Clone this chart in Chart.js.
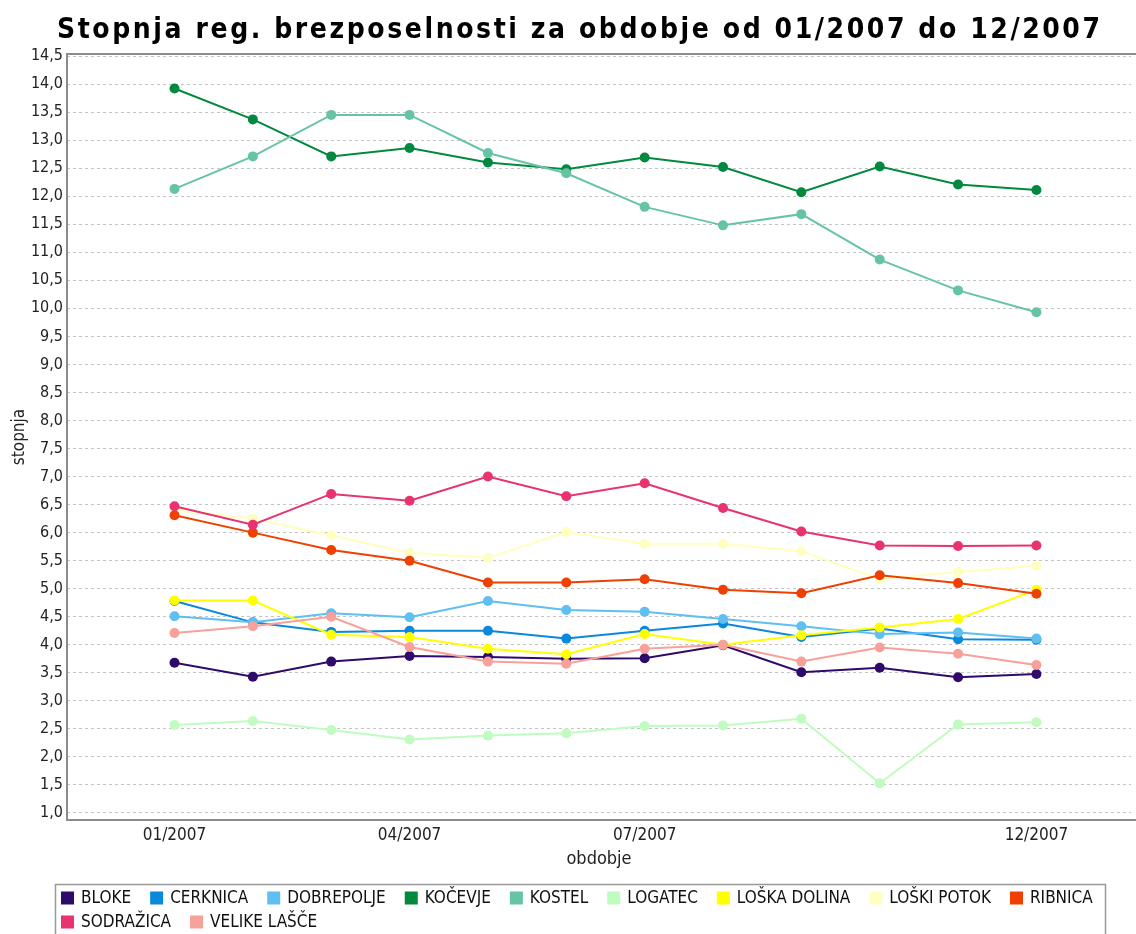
<!DOCTYPE html>
<html lang="sl">
<head>
  <meta charset="UTF-8">
  <title>Stopnja reg. brezposelnosti 2007</title>
  <script src="https://cdn.jsdelivr.net/npm/chart.js@4.4.1/dist/chart.umd.min.js"></script>
  <style>
    html, body { margin: 0; padding: 0; background: #fff; }
    #wrap { width: 1136px; height: 934px; }
  </style>
</head>
<body>
  <div id="wrap"><canvas id="chart" width="1136" height="934"></canvas></div>

  <script>
    const FONT = "'DejaVu Sans Condensed', 'DejaVu Sans', sans-serif";
    const TITLE = 'Stopnja reg. brezposelnosti za obdobje od 01/2007 do 12/2007';

    const months = ['01/2007', '02/2007', '03/2007', '04/2007', '05/2007', '06/2007',
                    '07/2007', '08/2007', '09/2007', '10/2007', '11/2007', '12/2007'];
    const xTickIdx = [0, 3, 6, 11];
    const yTicks = [1.0, 1.5, 2.0, 2.5, 3.0, 3.5, 4.0, 4.5, 5.0, 5.5, 6.0, 6.5, 7.0, 7.5,
                    8.0, 8.5, 9.0, 9.5, 10.0, 10.5, 11.0, 11.5, 12.0, 12.5, 13.0, 13.5, 14.0, 14.5];

    const names = ['BLOKE', 'CERKNICA', 'DOBREPOLJE', 'KOČEVJE', 'KOSTEL', 'LOGATEC',
                   'LOŠKA DOLINA', 'LOŠKI POTOK', 'RIBNICA', 'SODRAŽICA', 'VELIKE LAŠČE'];
    const colors = ['#2f0a6b', '#0a88dc', '#5ebff0', '#00893f', '#66c4a4', '#c0fcc0',
                    '#ffff00', '#ffffc0', '#f04000', '#e93370', '#f8a09a'];

    const bloke       = [3.68, 3.43, 3.70, 3.80, 3.78, 3.75, 3.76, 3.99, 3.51, 3.59, 3.42, 3.48];
    const cerknica    = [4.78, 4.40, 4.23, 4.25, 4.25, 4.11, 4.25, 4.38, 4.14, 4.29, 4.10, 4.09];
    const dobrepolje  = [4.51, 4.40, 4.56, 4.49, 4.78, 4.62, 4.59, 4.46, 4.33, 4.19, 4.22, 4.11];
    const kocevje     = [13.92, 13.37, 12.71, 12.86, 12.60, 12.48, 12.69, 12.52, 12.07, 12.53, 12.21, 12.11];
    const kostel      = [12.13, 12.71, 13.45, 13.45, 12.77, 12.41, 11.81, 11.48, 11.68, 10.87, 10.32, 9.93];
    const logatec     = [2.57, 2.64, 2.48, 2.31, 2.38, 2.42, 2.55, 2.56, 2.68, 1.53, 2.58, 2.62];
    const loskaDolina = [4.79, 4.79, 4.18, 4.14, 3.93, 3.83, 4.19, 4.00, 4.17, 4.31, 4.46, 4.98];
    const loskiPotok  = [6.40, 6.25, 5.95, 5.64, 5.55, 6.01, 5.80, 5.80, 5.67, 5.17, 5.30, 5.41];
    const ribnica     = [6.31, 6.00, 5.69, 5.50, 5.11, 5.11, 5.17, 4.98, 4.92, 5.24, 5.10, 4.91];
    const sodrazica   = [6.47, 6.14, 6.69, 6.57, 7.00, 6.65, 6.88, 6.44, 6.02, 5.77, 5.76, 5.77];
    const velikeLasce = [4.21, 4.33, 4.50, 3.96, 3.70, 3.66, 3.93, 4.00, 3.70, 3.95, 3.84, 3.64];

    const series = [bloke, cerknica, dobrepolje, kocevje, kostel, logatec,
                    loskaDolina, loskiPotok, ribnica, sodrazica, velikeLasce];

    const datasets = series.map((vals, i) => ({
      label: names[i],
      data: vals.map((v, j) => ({ x: j, y: v })),
      borderColor: colors[i],
      backgroundColor: colors[i],
      pointBackgroundColor: colors[i],
      pointBorderWidth: 0,
      pointRadius: 5,
      pointHoverRadius: 5,
      borderWidth: 2,
      tension: 0,
      order: names.length - i
    }));

    // title with letter spacing, like the original
    const titlePlugin = {
      id: 'bigTitle',
      afterDraw(chart) {
        const ctx = chart.ctx;
        ctx.save();
        ctx.font = 'bold 28px ' + FONT;
        ctx.fillStyle = '#000';
        ctx.textAlign = 'left';
        ctx.textBaseline = 'alphabetic';
        const w0 = ctx.measureText(TITLE).width;
        ctx.letterSpacing = ((1043 - w0) / (TITLE.length - 1)) + 'px';
        ctx.fillText(TITLE, 57, 38);
        ctx.restore();
      }
    };

    // plot frame (left, top, bottom lines)
    const framePlugin = {
      id: 'frame',
      beforeDatasetsDraw(chart) {
        const { ctx, chartArea: a } = chart;
        ctx.save();
        ctx.strokeStyle = '#8c8c8c';
        ctx.lineWidth = 2;
        ctx.strokeRect(a.left, a.top, 1200 - a.left, a.bottom - a.top);
        ctx.restore();
      }
    };

    // boxed legend, left aligned, wrapping
    const legendPlugin = {
      id: 'boxLegend',
      afterDraw(chart) {
        const ctx = chart.ctx;
        ctx.save();
        ctx.strokeStyle = '#999';
        ctx.lineWidth = 1.5;
        ctx.strokeRect(55.5, 884.5, 1050, 70);
        ctx.font = '17px ' + FONT;
        ctx.textBaseline = 'middle';
        ctx.textAlign = 'left';
        let x = 61, y = 898;
        chart.data.datasets.forEach(ds => {
          const w = 20 + ctx.measureText(ds.label).width;
          if (x + w > 1104) { x = 61; y += 24; }
          ctx.fillStyle = ds.borderColor;
          ctx.fillRect(x, y - 6.5, 13, 13);
          ctx.fillStyle = '#111';
          ctx.fillText(ds.label, x + 20, y + 1);
          x += w + 19;
        });
        ctx.restore();
      }
    };

    new Chart(document.getElementById('chart'), {
      type: 'line',
      data: { datasets: datasets },
      options: {
        responsive: false,
        animation: false,
        layout: { padding: { top: 54, bottom: 54, left: 0, right: 0 } },
        plugins: {
          legend: { display: false },
          tooltip: { enabled: false }
        },
        scales: {
          x: {
            type: 'linear',
            min: -1.372,
            max: 12.207,
            afterFit: s => { s.height = 60; },
            afterBuildTicks: s => { s.ticks = xTickIdx.map(v => ({ value: v })); },
            grid: { display: false, drawTicks: false },
            border: { display: false },
            ticks: {
              padding: 5,
              color: '#222',
              font: { family: FONT, size: 17 },
              maxRotation: 0,
              callback: v => months[v]
            },
            title: {
              display: true,
              text: 'obdobje',
              color: '#222',
              font: { family: FONT, size: 18 },
              padding: { top: 0, bottom: 10 }
            }
          },
          y: {
            min: 0.875,
            max: 14.536,
            afterFit: s => { s.width = 67; },
            afterBuildTicks: s => { s.ticks = yTicks.map(v => ({ value: v })); },
            grid: { color: '#c4c4c4', lineWidth: 1, drawTicks: false },
            border: { display: false, dash: [3, 3] },
            ticks: {
              padding: 4,
              color: '#222',
              font: { family: FONT, size: 16 },
              callback: v => v.toFixed(1).replace('.', ',')
            },
            title: {
              display: true,
              text: 'stopnja',
              color: '#222',
              font: { family: FONT, size: 17 },
              padding: { top: 9, bottom: 0 }
            }
          }
        }
      },
      plugins: [framePlugin, titlePlugin, legendPlugin]
    });
  </script>
</body>
</html>
